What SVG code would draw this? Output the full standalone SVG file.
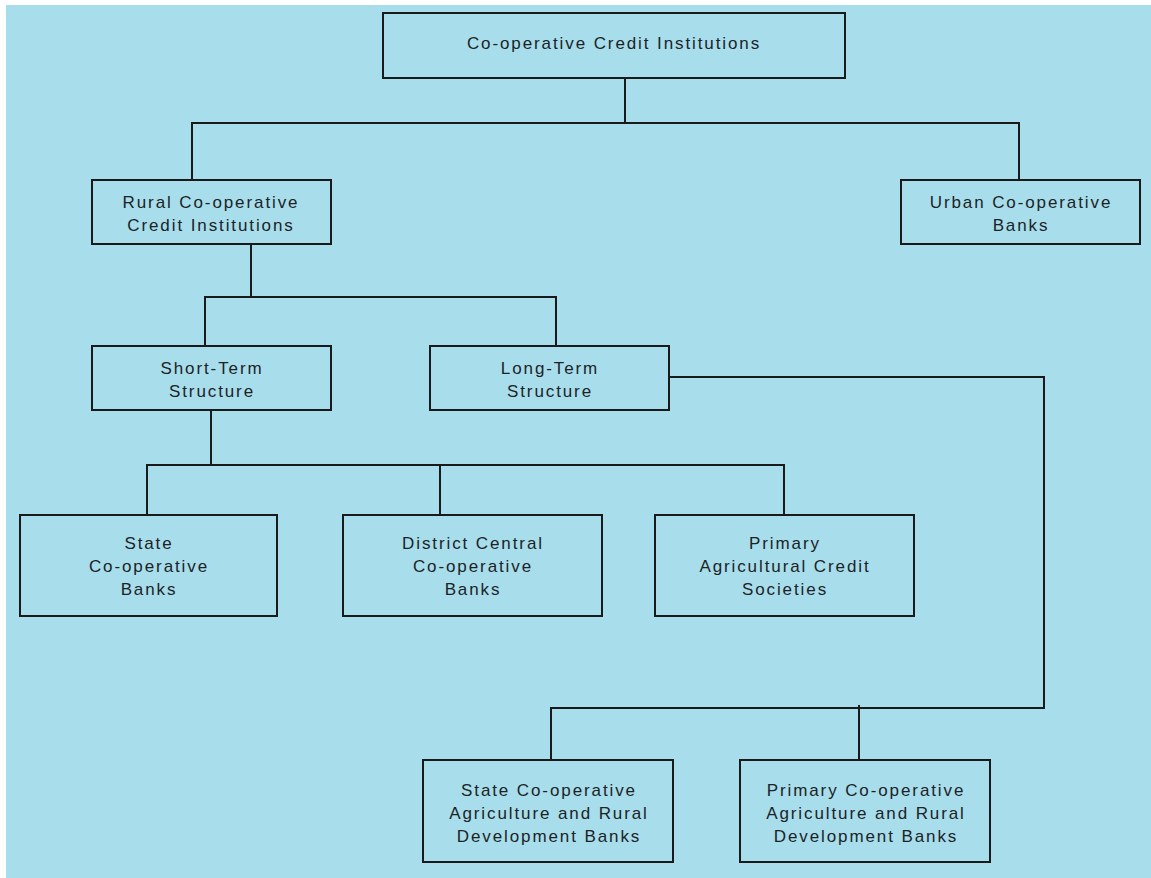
<svg xmlns="http://www.w3.org/2000/svg" width="1151" height="878" viewBox="0 0 1151 878">
<style>
.bg{fill:#A8DEEC}
.box{fill:#A8DEEC;stroke:#1a1a1a;stroke-width:2}
.lbl{font-family:"Liberation Sans",Arial,sans-serif;font-size:17px;letter-spacing:1.9px;fill:#1c2326;text-anchor:middle}
.conn{fill:none;stroke:#1a1a1a;stroke-width:2}
</style>
<rect x="0" y="0" width="1151" height="878" fill="#ffffff"/>
<rect class="bg" x="6" y="5" width="1145" height="873"/>
<g id="connectors">
<path class="conn" d="M625,78 V123 M192,180 V123 H1019 V180"/>
<path class="conn" d="M251,244 V297 M205,346 V297 H556 V346"/>
<path class="conn" d="M211,410 V465 M147,514 V465 H784 V514 M440,465 V514"/>
<path class="conn" d="M669,377 H1044 V708 H551 V760 M859,705 V760"/>
</g>
<g id="n-root">
<rect class="box" x="383" y="13" width="462" height="65"/>
<text class="lbl" x="614" y="49">Co-operative Credit Institutions</text>
</g>
<g id="n-rural">
<rect class="box" x="92" y="180" width="239" height="64"/>
<text class="lbl" x="211" y="208">Rural Co-operative</text>
<text class="lbl" x="211" y="231">Credit Institutions</text>
</g>
<g id="n-urban">
<rect class="box" x="901" y="180" width="239" height="64"/>
<text class="lbl" x="1021" y="208">Urban Co-operative</text>
<text class="lbl" x="1021" y="231">Banks</text>
</g>
<g id="n-short">
<rect class="box" x="92" y="346" width="239" height="64"/>
<text class="lbl" x="212" y="374">Short-Term</text>
<text class="lbl" x="212" y="397">Structure</text>
</g>
<g id="n-long">
<rect class="box" x="430" y="346" width="239" height="64"/>
<text class="lbl" x="550" y="374">Long-Term</text>
<text class="lbl" x="550" y="397">Structure</text>
</g>
<g id="n-scb">
<rect class="box" x="20" y="515" width="257" height="101"/>
<text class="lbl" x="149" y="549">State</text>
<text class="lbl" x="149" y="572">Co-operative</text>
<text class="lbl" x="149" y="595">Banks</text>
</g>
<g id="n-dccb">
<rect class="box" x="343" y="515" width="259" height="101"/>
<text class="lbl" x="473" y="549">District Central</text>
<text class="lbl" x="473" y="572">Co-operative</text>
<text class="lbl" x="473" y="595">Banks</text>
</g>
<g id="n-pacs">
<rect class="box" x="655" y="515" width="259" height="101"/>
<text class="lbl" x="785" y="549">Primary</text>
<text class="lbl" x="785" y="572">Agricultural Credit</text>
<text class="lbl" x="785" y="595">Societies</text>
</g>
<g id="n-scardb">
<rect class="box" x="423" y="760" width="250" height="102"/>
<text class="lbl" x="549" y="796">State Co-operative</text>
<text class="lbl" x="549" y="819">Agriculture and Rural</text>
<text class="lbl" x="549" y="842">Development Banks</text>
</g>
<g id="n-pcardb">
<rect class="box" x="740" y="760" width="250" height="102"/>
<text class="lbl" x="866" y="796">Primary Co-operative</text>
<text class="lbl" x="866" y="819">Agriculture and Rural</text>
<text class="lbl" x="866" y="842">Development Banks</text>
</g>
</svg>
